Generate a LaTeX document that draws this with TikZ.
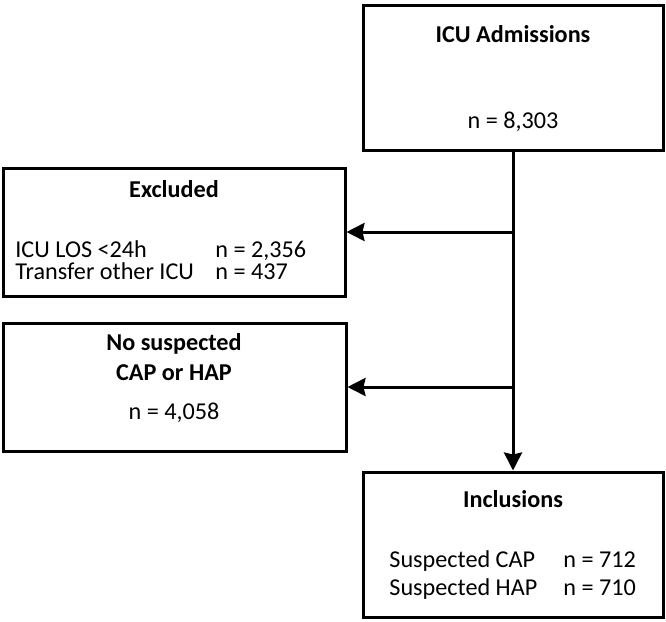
\documentclass[tikz,border=0pt]{standalone}
\usepackage{fontspec}
\setmainfont{Carlito}
\usetikzlibrary{positioning}
\usetikzlibrary{arrows.meta}
\newcommand{\boxfont}{\fontsize{12.1}{14}\selectfont}

\begin{document}
\begin{tikzpicture}[x=.5pt,y=-.5pt,
  box/.style={draw,line width=1.5pt,inner sep=0pt},
  title/.style={font=\boxfont\bfseries,inner sep=0pt,anchor=base},
  num/.style={font=\boxfont,inner sep=0pt,anchor=base},
  txt/.style={font=\boxfont,inner sep=0pt,anchor=base west},
  arr/.style={line width=1.5pt,-{Stealth[length=9pt,width=9pt,inset=1pt]}}]
\useasboundingbox (0,0) rectangle (666,622);
% boxes
\node[box,minimum width=150pt,minimum height=72.5pt] (adm) at (513,77.5) {};
\node[box,minimum width=171pt,minimum height=64pt] (excl) at (174,232) {};
\node[box,minimum width=171.5pt,minimum height=64pt] (nosusp) at (174.5,387) {};
\node[box,minimum width=150pt,minimum height=72.5pt] (incl) at (513,544.5) {};
% texts
\node[title] (admT) at (513,42) {ICU Admissions};
\node[num] (admN) at (513,128) {n = 8,303};
\node[title] (exclT) at (174,197.5) {Excluded};
\node[txt] (los) at (15,257) {ICU LOS <24h};
\node[txt] (losN) at (215,257) {n = 2,356};
\node[txt] (trans) at (15,279.5) {Transfer other ICU};
\node[txt] (transN) at (215,279.5) {n = 437};
\node[title] (nosuspT) at (174,350.5) {No suspected};
\node[title] (nosuspT2) at (174,380.5) {CAP or HAP};
\node[num] (nosuspN) at (174,419.5) {n = 4,058};
\node[title] (inclT) at (513,507.5) {Inclusions};
\node[txt] (cap) at (389,567.5) {Suspected CAP};
\node[txt] (capN) at (563,567.5) {n = 712};
\node[txt] (hap) at (389,595) {Suspected HAP};
\node[txt] (hapN) at (563,595) {n = 710};
% arrows
\draw[arr] (adm.south) -- (incl.north);
\draw[arr] (adm.south |- excl.east) -- (excl.east);
\draw[arr] (adm.south |- nosusp.east) -- (nosusp.east);
\end{tikzpicture}
\end{document}
